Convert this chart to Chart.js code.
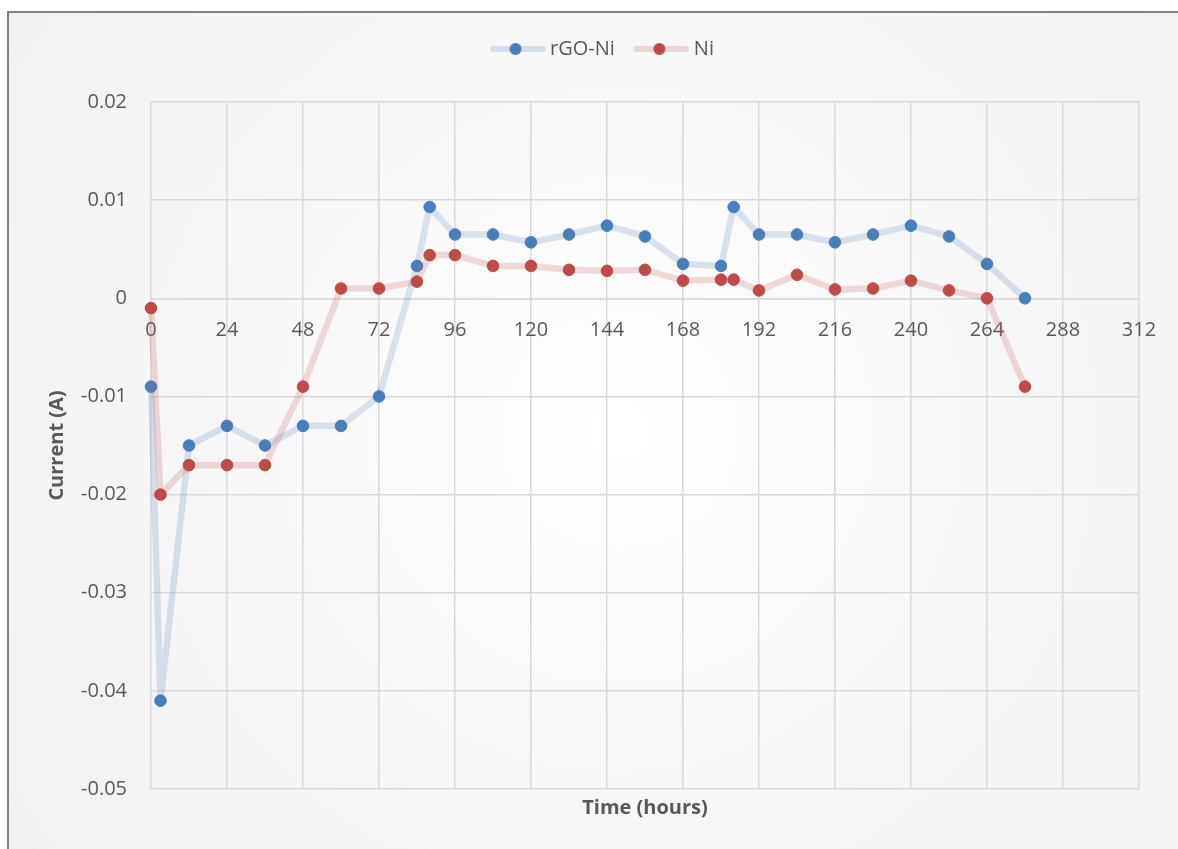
<!DOCTYPE html>
<html>
<head>
<meta charset="utf-8">
<title>rGO-Ni vs Ni current over time</title>
<script src="https://cdn.jsdelivr.net/npm/chart.js@4.4.1/dist/chart.umd.min.js"></script>
<style>
  html, body { margin: 0; padding: 0; background: #ffffff; }
  #wrap { width: 1178px; height: 849px; }
</style>
</head>
<body>
<div id="wrap"><canvas id="chart" width="1178" height="849"></canvas></div>
<script>
// Sampling times (hours)
const hours = [0, 3, 12, 24, 36, 48, 60, 72, 84, 88, 96, 108, 120, 132, 144, 156, 168, 180, 184, 192, 204, 216, 228, 240, 252, 264, 276];

// Measured current (A)
const rgoNi = [-0.009, -0.041, -0.015, -0.013, -0.015, -0.013, -0.013, -0.010, 0.0033, 0.0093, 0.0065, 0.0065, 0.0057, 0.0065, 0.0074, 0.0063, 0.0035, 0.0033, 0.0093, 0.0065, 0.0065, 0.0057, 0.0065, 0.0074, 0.0063, 0.0035, 0];
const ni    = [-0.001, -0.020, -0.017, -0.017, -0.017, -0.009, 0.001, 0.001, 0.0017, 0.0044, 0.0044, 0.0033, 0.0033, 0.0029, 0.0028, 0.0029, 0.0018, 0.0019, 0.0019, 0.0008, 0.0024, 0.0009, 0.0010, 0.0018, 0.0008, 0, -0.009];

// Axis ranges and tick steps
const xRange = [0, 312];
const xStep = 24;
const yRange = [-0.05, 0.02];
const yStep = 0.01;

const seriesNames = ['rGO-Ni', 'Ni'];

const TEXT = '#595959';
const GRID = '#d9d9d9';
const FONT = '"Open Sans", "Liberation Sans", sans-serif';

const styles = [
  { dot: '#4a7ebb', line: 'rgba(74,126,187,0.2)' },
  { dot: '#be4b48', line: 'rgba(192,80,77,0.2)' }
];

// Legend marker: a short thick line with a dot in the middle
function legendMarker(lineColor, dotColor) {
  const c = document.createElement('canvas');
  c.width = 56; c.height = 14;
  const g = c.getContext('2d');
  g.strokeStyle = lineColor;
  g.lineWidth = 6;
  g.lineCap = 'round';
  g.beginPath(); g.moveTo(3, 7); g.lineTo(53, 7); g.stroke();
  g.fillStyle = dotColor;
  g.beginPath(); g.arc(26, 7, 6, 0, Math.PI * 2); g.fill();
  return c;
}
const markers = styles.map(s => legendMarker(s.line, s.dot));

function series(values) {
  return hours.map((h, i) => ({ x: h, y: values[i] }));
}

// Framed panel with a soft radial fill behind the chart
const framePlugin = {
  id: 'frame',
  beforeDraw(chart) {
    const { ctx, width, height } = chart;
    ctx.save();
    ctx.fillStyle = '#ffffff';
    ctx.fillRect(0, 0, width, height);
    const g = ctx.createRadialGradient(620, 430, 0, 620, 430, 820);
    g.addColorStop(0, '#ffffff');
    g.addColorStop(1, '#efefef');
    ctx.fillStyle = g;
    ctx.fillRect(8, 12, width - 8, height - 12);
    ctx.strokeStyle = '#808080';
    ctx.lineWidth = 2;
    ctx.beginPath();
    ctx.moveTo(8, height);
    ctx.lineTo(8, 12);
    ctx.lineTo(width, 12);
    ctx.stroke();
    ctx.restore();
  }
};

// Reserve space under the legend and centre it over the panel
const legendSpacing = {
  id: 'legendSpacing',
  beforeInit(chart) {
    const fit = chart.legend.fit;
    chart.legend.fit = function () {
      fit.call(this);
      this.height = 87;
    };
  },
  afterLayout(chart) {
    chart.legend.left += 35;
    chart.legend.right += 35;
  }
};

new Chart(document.getElementById('chart'), {
  type: 'line',
  data: {
    datasets: [rgoNi, ni].map((vals, i) => ({
      label: seriesNames[i],
      data: series(vals),
      borderColor: styles[i].line,
      borderWidth: 6.5,
      borderCapStyle: 'round',
      borderJoinStyle: 'round',
      pointRadius: 5.8,
      pointBorderWidth: 1,
      pointBackgroundColor: styles[i].dot,
      pointBorderColor: styles[i].dot,
      tension: 0,
      fill: false,
      clip: false,
      order: 2 - i
    }))
  },
  options: {
    responsive: false,
    animation: false,
    events: [],
    layout: { padding: { top: 15, left: 0, right: 39, bottom: 0 } },
    plugins: {
      tooltip: { enabled: false },
      legend: {
        position: 'top',
        labels: {
          usePointStyle: true,
          pointStyleWidth: 45,
          padding: 24,
          color: TEXT,
          font: { family: FONT, size: 20 },
          generateLabels(chart) {
            return chart.data.datasets.map((ds, i) => ({
              text: ds.label,
              pointStyle: markers[i],
              fillStyle: styles[i].dot,
              strokeStyle: styles[i].dot,
              lineWidth: 0,
              hidden: false,
              datasetIndex: i,
              fontColor: TEXT
            }));
          }
        }
      }
    },
    scales: {
      x: {
        type: 'linear',
        position: { y: 0 },
        min: xRange[0],
        max: xRange[1],
        ticks: {
          stepSize: xStep,
          padding: 20,
          color: TEXT,
          autoSkip: false,
          maxRotation: 0,
          font: { family: FONT, size: 20 }
        },
        grid: { color: GRID, lineWidth: 1.5, drawTicks: false },
        border: { color: GRID, width: 1.5 }
      },
      xTitle: {
        type: 'linear',
        axis: 'x',
        position: 'bottom',
        ticks: { display: false },
        grid: { display: false },
        border: { display: false },
        title: {
          display: true,
          text: 'Time (hours)',
          color: TEXT,
          font: { family: FONT, size: 20, weight: 'bold' },
          padding: { top: 0, bottom: 29 }
        },
        afterFit(scale) { scale.height = 60; }
      },
      y: {
        type: 'linear',
        position: 'left',
        min: yRange[0],
        max: yRange[1],
        ticks: {
          stepSize: yStep,
          padding: 24,
          color: TEXT,
          font: { family: FONT, size: 20 },
          callback: v => String(Math.round(v * 100) / 100)
        },
        grid: { color: GRID, lineWidth: 1.5, drawTicks: false },
        border: { display: false },
        title: {
          display: true,
          text: 'Current (A)',
          color: TEXT,
          font: { family: FONT, size: 20, weight: 'bold' },
          padding: { top: 45, bottom: 0 }
        },
        afterFit(scale) { scale.width = 151; }
      }
    }
  },
  plugins: [framePlugin, legendSpacing]
});
</script>
</body>
</html>
